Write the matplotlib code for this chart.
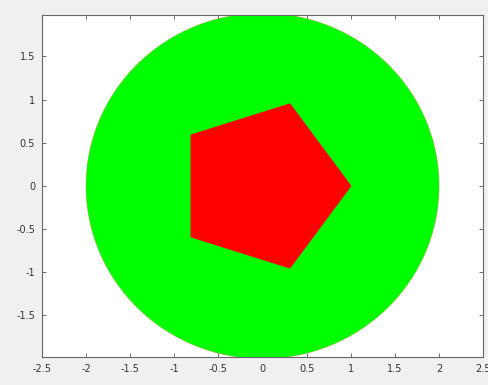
import matplotlib
matplotlib.use("Agg")
import matplotlib.pyplot as plt
from matplotlib.patches import Circle, Polygon

# Data
circle_center = (0.0, 0.0)
circle_radius = 2.0
pent_x = [1.0, 0.31, -0.81, -0.81, 0.31]
pent_y = [0.0, 0.95, 0.59, -0.59, -0.95]
x_ticks = [-2.5, -2, -1.5, -1, -0.5, 0, 0.5, 1, 1.5, 2, 2.5]
x_labels = ["-2.5", "-2", "-1.5", "-1", "-0.5", "0", "0.5", "1", "1.5", "2", "2.5"]
y_ticks = [-1.5, -1, -0.5, 0, 0.5, 1, 1.5]
y_labels = ["-1.5", "-1", "-0.5", "0", "0.5", "1", "1.5"]

fig = plt.figure(figsize=(4.88, 3.85), dpi=100, facecolor="#f0f0f0")
ax = fig.add_axes([0.086, 0.073, 0.904, 0.888])
ax.set_facecolor("white")

# faint red rim under the green disk
ax.add_patch(Circle(circle_center, circle_radius, facecolor="none",
                    edgecolor="#ff9a9a", linewidth=0.7, zorder=1))
ax.add_patch(Circle(circle_center, circle_radius * 0.997, facecolor="#00ff00",
                    edgecolor="#00ff00", linewidth=0.8, zorder=2))
ax.add_patch(Polygon(list(zip(pent_x, pent_y)), closed=True, facecolor="#ff0000",
                     edgecolor="#ff0000", linewidth=0.8, zorder=3))

ax.set_xlim(-2.5, 2.5)
ax.set_ylim(-1.98, 1.98)
ax.set_xticks(x_ticks)
ax.set_xticklabels(x_labels)
ax.set_yticks(y_ticks)
ax.set_yticklabels(y_labels)
ax.tick_params(direction="in", top=True, right=True, length=3, width=0.6,
               colors="#555555", labelcolor="#333333", labelsize=7, pad=5)
for s in ax.spines.values():
    s.set_color("#666666")
    s.set_linewidth(0.8)

fig.savefig("out.png", dpi=100, facecolor=fig.get_facecolor())
